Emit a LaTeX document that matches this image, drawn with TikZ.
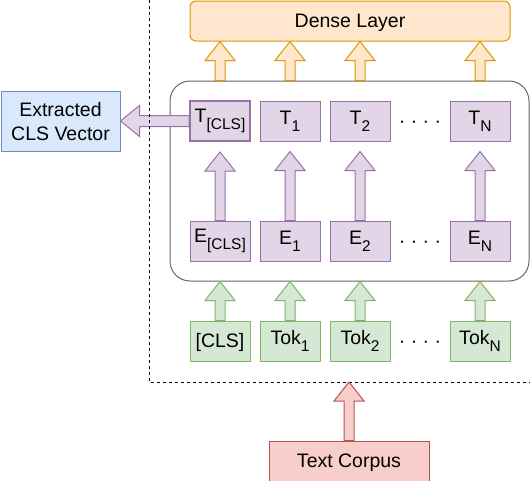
\documentclass[tikz,border=0pt]{standalone}
\usepackage{fontspec}
\setmainfont{Liberation Sans}
\usetikzlibrary{calc}
\definecolor{purf}{HTML}{E1D5E7}\definecolor{purd}{HTML}{9673A6}
\definecolor{grnf}{HTML}{D5E8D4}\definecolor{grnd}{HTML}{82B366}
\definecolor{redf}{HTML}{F8CECC}\definecolor{redd}{HTML}{B85450}
\definecolor{orf}{HTML}{FFE6CC}\definecolor{ord}{HTML}{D79B00}
\definecolor{bluf}{HTML}{DAE8FC}\definecolor{blud}{HTML}{6C8EBF}
\definecolor{greyd}{HTML}{666666}
\newcommand\sbs[1]{\raisebox{-7pt}{\fontsize{15.5}{15.5}\selectfont #1}}
\newcommand\uparr[3]{\path[#1] let \p1=(#2), \p2=(#3) in
  (\x1-5pt,\y1) -- (\x1-5pt,\y2-19pt) -- (\x1-15pt,\y2-19pt) -- (\x1,\y2)
  -- (\x1+15pt,\y2-19pt) -- (\x1+5pt,\y2-19pt) -- (\x1+5pt,\y1) -- cycle;}
\newcommand\leftarr[3]{\path[#1] let \p1=(#2), \p2=(#3) in
  (\x1,\y1-5.5pt) -- (\x2+19pt,\y1-5.5pt) -- (\x2+19pt,\y1-15.5pt) -- (\x2,\y1)
  -- (\x2+19pt,\y1+15.5pt) -- (\x2+19pt,\y1+5.5pt) -- (\x1,\y1+5.5pt) -- cycle;}
\tikzset{
  box/.style={draw, line width=1pt, minimum width=60pt, minimum height=40pt, inner sep=0pt,
    font=\fontsize{19.5}{24.5}\selectfont},
  plain/.style={text height=17.5pt, text depth=4pt},
  pbox/.style={box, fill=purf, draw=purd},
  gbox/.style={box, fill=grnf, draw=grnd},
  dots/.style={font=\fontsize{19.5}{23.4}\selectfont, inner sep=0pt, plain},
  parr/.style={fill=purf, draw=purd, line width=1pt, line join=miter},
  garr/.style={fill=grnf, draw=grnd, line width=1pt},
  oarr/.style={fill=orf, draw=ord, line width=1pt},
  rarr/.style={fill=redf, draw=redd, line width=1pt},
  bound/.style={draw=black, line width=1pt, dash pattern=on 3pt off 3pt},
}
\begin{document}
\begin{tikzpicture}[x=1pt, y=-1pt]
\useasboundingbox (0,0) rectangle (530,480);
% encoder box
\node[draw=greyd, line width=1pt, rounded corners=20pt, minimum width=359pt, minimum height=200pt, inner sep=0pt] (bert) at (349.5,181) {};
% dense layer
\node[box, plain, fill=orf, draw=ord, rounded corners=6pt, minimum width=320pt] (dense) at (350,21) {Dense Layer};
% T row
\node[pbox, line width=2pt] (tcls) at (220,121) {T\sbs{[CLS]}};
\node[pbox] (t1) at (290,121) {T\sbs{1}};
\node[pbox] (t2) at (360,121) {T\sbs{2}};
\node[dots] (tdots) at (420,121) {· · · ·};
\node[pbox] (tn) at (480,121) {T\sbs{N}};
% E row
\node[pbox] (ecls) at (220,241) {E\sbs{[CLS]}};
\node[pbox] (e1) at (290,241) {E\sbs{1}};
\node[pbox] (e2) at (360,241) {E\sbs{2}};
\node[dots] (edots) at (420,241) {· · · ·};
\node[pbox] (en) at (480,241) {E\sbs{N}};
% Tok row
\node[gbox, plain] (kcls) at (220,341) {[CLS]};
\node[gbox] (k1) at (290,341) {Tok\sbs{1}};
\node[gbox] (k2) at (360,341) {Tok\sbs{2}};
\node[dots] (kdots) at (420,341) {· · · ·};
\node[gbox] (kn) at (480,341) {Tok\sbs{N}};
% corpus and output
\node[box, plain, fill=redf, draw=redd, minimum width=160pt] (corpus) at (349,461) {Text Corpus};
\node[box, fill=bluf, draw=blud, minimum width=119pt, minimum height=60pt, align=center] (cls) at (60.5,121.5) {Extracted\\CLS Vector};
% arrows
\foreach \c in {tcls,t1,t2,tn}{\uparr{oarr}{\c |- bert.north}{\c |- dense.south}}
\foreach \e/\t in {ecls/tcls,e1/t1,e2/t2,en/tn}{\uparr{parr}{\e.north}{$(\t.south)+(0,10)$}}
\foreach \k in {kcls,k1,k2,kn}{\uparr{garr}{\k.north}{\k |- bert.south}}
\leftarr{parr}{tcls.west}{cls.east}
% boundary
\coordinate (dtop) at (149,0);
\coordinate (dl) at (149,382);
\coordinate (dr) at (531,382);
\draw[bound] (dtop) -- (dl) -- (dr);
\uparr{rarr}{corpus.north}{corpus.north |- dl}
\end{tikzpicture}
\end{document}
